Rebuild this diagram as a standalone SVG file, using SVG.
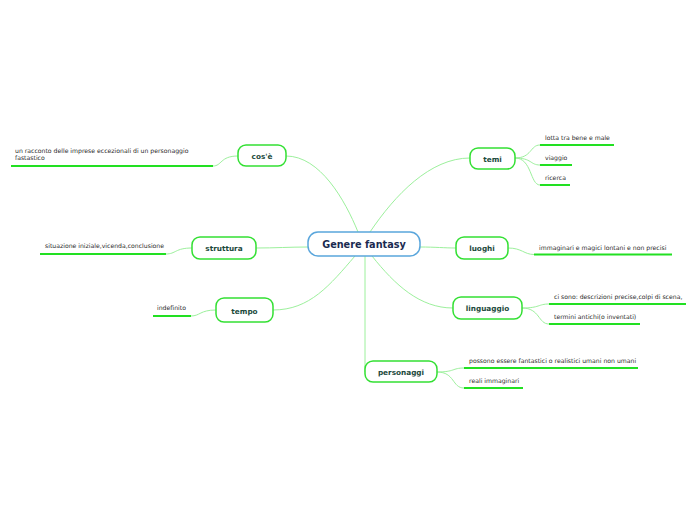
<svg xmlns="http://www.w3.org/2000/svg" width="696" height="520" viewBox="0 0 696 520">
<style>
.node rect{fill:#fff;stroke:#33e033;stroke-width:1.5}
.node text{font-family:"DejaVu Sans",Verdana,sans-serif;font-weight:bold;font-size:7.3px;fill:#1c4a3c;text-anchor:middle}
.leaf text{font-family:"DejaVu Sans",Verdana,sans-serif;font-size:6.15px;fill:#2a2a2a}
.leaf line{stroke:#22e022;stroke-width:2}
.conn path{fill:none;stroke:#9cf09c;stroke-width:1}
</style>
<rect width="696" height="520" fill="#fff"/>
<g class="conn">
<path d="M358,232 C345,200 320,156 286,156"/>
<path d="M370,232 C395,195 430,158 470,158"/>
<path d="M308,247 C290,247 275,248 256,248"/>
<path d="M420,247 C435,247 445,248 456,248"/>
<path d="M355,256 C330,285 310,310 273,310"/>
<path d="M372,256 C395,285 420,308 453,308"/>
<path d="M365,256 L365,372"/>
<path d="M238,156 C220,156 222,166 213,166"/>
<path d="M515,158 C532,158 530,145 540,145"/>
<path d="M515,158 C532,158 530,165 540,165"/>
<path d="M515,158 C532,158 530,185 540,185"/>
<path d="M192,248 C175,248 176,254 166,254"/>
<path d="M216,310 C200,310 200,316 191,316"/>
<path d="M508,248 C522,248 524,254.5 534,254.5"/>
<path d="M522,308 C540,308 538,304 549,304"/>
<path d="M522,308 C540,308 538,324 549,324"/>
<path d="M437,372 C455,372 452,368 464,368"/>
<path d="M437,372 C455,372 452,388 464,388"/>
</g>
<g id="central">
<rect x="308" y="232" width="112" height="24" rx="10" fill="#fff" stroke="#5aa6dc" stroke-width="1.5"/>
<text x="364" y="248" font-family="DejaVu Sans,Verdana,sans-serif" font-weight="bold" font-size="9.7" fill="#1a2a50" text-anchor="middle">Genere fantasy</text>
</g>
<g id="cose" class="node"><rect x="238" y="145" width="48" height="21" rx="8"/><text x="262" y="159">cos'è</text></g>
<g id="temi" class="node"><rect x="470" y="148" width="45" height="21" rx="8"/><text x="492.5" y="161.5">temi</text></g>
<g id="struttura" class="node"><rect x="192" y="237" width="64" height="22" rx="8"/><text x="224" y="250.5">struttura</text></g>
<g id="luoghi" class="node"><rect x="456" y="237" width="52" height="22" rx="8"/><text x="482" y="250.5">luoghi</text></g>
<g id="tempo" class="node"><rect x="216" y="298" width="57" height="24" rx="8"/><text x="244.5" y="313.5">tempo</text></g>
<g id="linguaggio" class="node"><rect x="453" y="297" width="69" height="22" rx="8"/><text x="487.5" y="310.5">linguaggio</text></g>
<g id="personaggi" class="node"><rect x="365" y="361" width="72" height="21" rx="8"/><text x="401" y="374.5">personaggi</text></g>
<g id="leaf-cose" class="leaf"><text x="15" y="153">un racconto delle imprese eccezionali di un personaggio</text><text x="15" y="160">fastastico</text><line x1="11" y1="166" x2="213" y2="166"/></g>
<g id="leaf-temi1" class="leaf"><text x="545" y="139.5">lotta tra bene e male</text><line x1="540" y1="145" x2="614" y2="145"/></g>
<g id="leaf-temi2" class="leaf"><text x="545" y="159.5">viaggio</text><line x1="540" y1="165" x2="572" y2="165"/></g>
<g id="leaf-temi3" class="leaf"><text x="545" y="179.5">ricerca</text><line x1="540" y1="185" x2="570" y2="185"/></g>
<g id="leaf-struttura" class="leaf"><text x="45" y="248">situazione iniziale,vicenda,conclusione</text><line x1="40" y1="254" x2="166" y2="254"/></g>
<g id="leaf-tempo" class="leaf"><text x="157" y="310">indefinito</text><line x1="153" y1="316" x2="191" y2="316"/></g>
<g id="leaf-luoghi" class="leaf"><text x="539" y="249.5">immaginari e magici lontani e non precisi</text><line x1="534" y1="254.5" x2="672" y2="254.5"/></g>
<g id="leaf-ling1" class="leaf"><text x="554" y="299">ci sono: descrizioni precise,colpi di scena,</text><line x1="549" y1="304" x2="686" y2="304"/></g>
<g id="leaf-ling2" class="leaf"><text x="554" y="318.5">termini antichi(o inventati)</text><line x1="549" y1="324" x2="640" y2="324"/></g>
<g id="leaf-pers1" class="leaf"><text x="469" y="362.5">possono essere fantastici o realistici umani non umani</text><line x1="464" y1="368" x2="638" y2="368"/></g>
<g id="leaf-pers2" class="leaf"><text x="469" y="383">reali immaginari</text><line x1="464" y1="388" x2="523" y2="388"/></g>
</svg>
